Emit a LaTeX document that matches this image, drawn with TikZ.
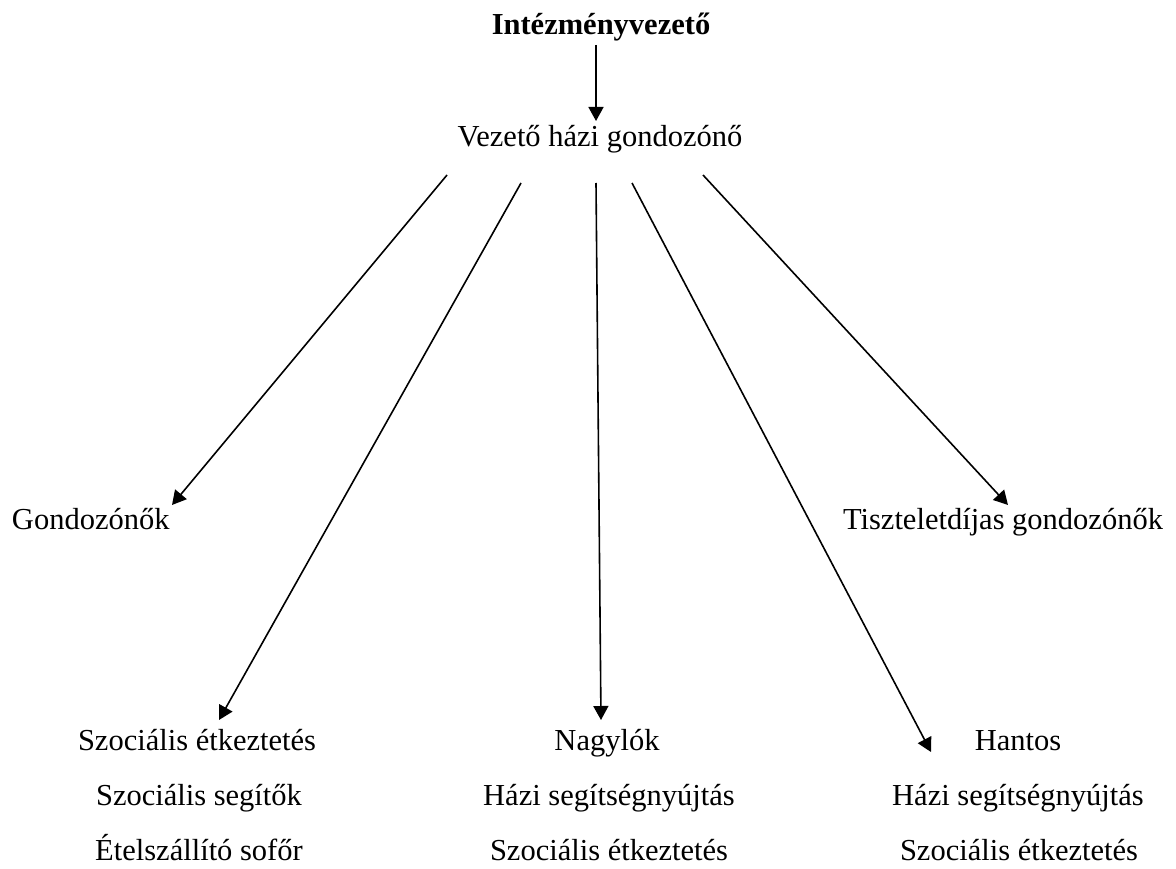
\documentclass[tikz,border=0pt]{standalone}
\usepackage{fontspec}
\setmainfont{Liberation Serif}
\usetikzlibrary{arrows.meta}
\begin{document}
\begin{tikzpicture}[x=1pt,y=-1pt,
  txt/.style={inner sep=0pt,outer sep=0pt,font=\fontsize{30.5}{36}\selectfont},
  arr/.style={line width=1.6pt,-{Triangle[width=15pt,length=14pt]}}]
\useasboundingbox (0,0) rectangle (1176,869);
% nodes
\node[txt,anchor=base,font=\fontsize{30.5}{36}\selectfont\bfseries] (inv) at (601,35) {Intézményvezető};
\node[txt,anchor=base] (vez) at (600,147) {Vezető házi gondozónő};
\node[txt,anchor=base west] (gond) at (12,529) {Gondozónők};
\node[txt,anchor=base east] (tisz) at (1163,529) {Tiszteletdíjas gondozónők};
\node[txt,anchor=base] (szet) at (197,750) {Szociális étkeztetés};
\node[txt,anchor=base] (szseg) at (199,805) {Szociális segítők};
\node[txt,anchor=base] (etel) at (199,860) {Ételszállító sofőr};
\node[txt,anchor=base] (nagy) at (607,750) {Nagylók};
\node[txt,anchor=base] (nhazi) at (609,805) {Házi segítségnyújtás};
\node[txt,anchor=base] (nszoc) at (609,860) {Szociális étkeztetés};
\node[txt,anchor=base] (hant) at (1018,750) {Hantos};
\node[txt,anchor=base] (hhazi) at (1018,805) {Házi segítségnyújtás};
\node[txt,anchor=base] (hszoc) at (1019,860) {Szociális étkeztetés};
% connector end points
\coordinate (a0) at (596,45);  \coordinate (b0) at (596,121);
\coordinate (a1) at (447,175); \coordinate (b1) at (172,505);
\coordinate (a2) at (521,183); \coordinate (b2) at (219,720);
\coordinate (a3) at (596,183); \coordinate (b3) at (601,720);
\coordinate (a4) at (632,183); \coordinate (b4) at (931,752);
\coordinate (a5) at (703,175); \coordinate (b5) at (1008,505);
% connectors
\draw[arr] (a0) -- (b0);
\draw[arr] (a1) -- (b1);
\draw[arr] (a2) -- (b2);
\draw[arr] (a3) -- (b3);
\draw[arr] (a4) -- (b4);
\draw[arr] (a5) -- (b5);
\end{tikzpicture}
\end{document}
